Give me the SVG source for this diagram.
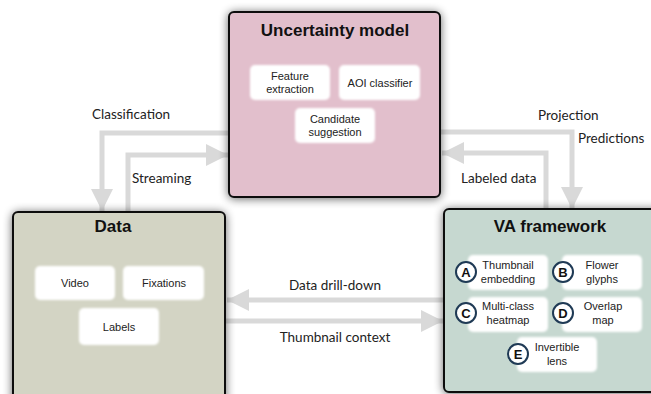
<svg xmlns="http://www.w3.org/2000/svg" width="651" height="394" viewBox="0 0 651 394">
<defs>
<filter id="shadow" x="-20%" y="-20%" width="140%" height="140%">
<feGaussianBlur in="SourceAlpha" stdDeviation="5"/>
<feOffset dx="0" dy="1"/>
<feComponentTransfer><feFuncA type="linear" slope="0.6"/></feComponentTransfer>
<feMerge><feMergeNode/><feMergeNode in="SourceGraphic"/></feMerge>
</filter>
<filter id="soft" x="-10%" y="-10%" width="120%" height="120%">
<feGaussianBlur stdDeviation="1.2"/>
</filter>
<marker id="ah" viewBox="0 0 10 10" refX="10" refY="5" markerWidth="4.6" markerHeight="4.4" orient="auto" markerUnits="strokeWidth">
<path d="M0,0 L10,5 L0,10 Z" fill="#d9d9d9"/>
</marker>
</defs>
<style>
.box{stroke:#111;stroke-width:2}
.title{font-family:"Liberation Sans",Arial,sans-serif;font-weight:bold;font-size:17px;fill:#111;text-anchor:middle}
.inner{fill:#fff;filter:url(#soft)}
.it{font-family:"Liberation Sans",Arial,sans-serif;font-size:11px;fill:#222;text-anchor:middle}
.conn{fill:none;stroke:#d9d9d9;stroke-width:5}
.cl{font-family:Lato,"Open Sans",sans-serif;font-size:13.5px;fill:#222}
.circ{fill:#fff;stroke:#1f3a55;stroke-width:2}
.ct{font-family:"Liberation Sans",Arial,sans-serif;font-weight:bold;font-size:13px;fill:#111;text-anchor:middle}
</style>
<rect width="651" height="394" fill="#fff"/>

<g id="connectors">
<polyline class="conn" points="229,133 102,133 102,211" marker-end="url(#ah)"/>
<polyline class="conn" points="128,212 128,155 228,155" marker-end="url(#ah)"/>
<polyline class="conn" points="440,132 572,132 572,209" marker-end="url(#ah)"/>
<polyline class="conn" points="546,209 546,153 442,153" marker-end="url(#ah)"/>
<line class="conn" x1="444" y1="300" x2="227" y2="300" marker-end="url(#ah)"/>
<line class="conn" x1="225" y1="321" x2="443" y2="321" marker-end="url(#ah)"/>
<text class="cl" x="92" y="119">Classification</text>
<text class="cl" x="132" y="183">Streaming</text>
<text class="cl" x="538" y="120">Projection</text>
<text class="cl" x="578" y="143">Predictions</text>
<text class="cl" x="461" y="183">Labeled data</text>
<text class="cl" x="335" y="290" text-anchor="middle">Data drill-down</text>
<text class="cl" x="335" y="342" text-anchor="middle">Thumbnail context</text>
</g>

<g id="uncertainty-model">
<rect class="box" x="229" y="12" width="211" height="185" rx="5" fill="#e2bfcc" filter="url(#shadow)"/>
<text class="title" x="335" y="36">Uncertainty model</text>
<rect class="inner" x="250" y="65" width="80" height="35" rx="5"/>
<text class="it" x="290" y="80">Feature</text>
<text class="it" x="290" y="93">extraction</text>
<rect class="inner" x="339" y="65" width="81" height="35" rx="5"/>
<text class="it" x="380" y="87">AOI classifier</text>
<rect class="inner" x="295" y="108" width="80" height="35" rx="5"/>
<text class="it" x="335" y="123">Candidate</text>
<text class="it" x="335" y="136">suggestion</text>
</g>

<g id="data">
<rect class="box" x="13" y="212" width="212" height="195" rx="5" fill="#d3d4c4" filter="url(#shadow)"/>
<text class="title" x="113" y="232">Data</text>
<rect class="inner" x="35" y="266" width="80" height="34" rx="5"/>
<text class="it" x="75" y="287">Video</text>
<rect class="inner" x="123" y="266" width="81" height="34" rx="5"/>
<text class="it" x="164" y="287">Fixations</text>
<rect class="inner" x="79" y="308" width="80" height="37" rx="5"/>
<text class="it" x="119" y="331">Labels</text>
</g>

<g id="va-framework">
<rect class="box" x="444" y="209" width="220" height="183" rx="5" fill="#c6d8d0" filter="url(#shadow)"/>
<text class="title" x="550" y="232">VA framework</text>
<rect class="inner" x="468" y="255" width="80" height="35" rx="5"/>
<text class="it" x="508" y="269">Thumbnail</text>
<text class="it" x="508" y="283">embedding</text>
<rect class="inner" x="562" y="255" width="80" height="35" rx="5"/>
<text class="it" x="602" y="269">Flower</text>
<text class="it" x="602" y="283">glyphs</text>
<rect class="inner" x="468" y="297" width="80" height="35" rx="5"/>
<text class="it" x="508" y="310">Multi-class</text>
<text class="it" x="508" y="324">heatmap</text>
<rect class="inner" x="562" y="297" width="80" height="35" rx="5"/>
<text class="it" x="603" y="310">Overlap</text>
<text class="it" x="603" y="324">map</text>
<rect class="inner" x="517" y="337" width="80" height="35" rx="5"/>
<text class="it" x="557" y="351">Invertible</text>
<text class="it" x="557" y="365">lens</text>
<circle class="circ" cx="466" cy="272" r="10"/>
<text class="ct" x="466" y="277">A</text>
<circle class="circ" cx="563" cy="272" r="10"/>
<text class="ct" x="563" y="277">B</text>
<circle class="circ" cx="466" cy="313" r="10"/>
<text class="ct" x="466" y="318">C</text>
<circle class="circ" cx="563" cy="313" r="10"/>
<text class="ct" x="563" y="318">D</text>
<circle class="circ" cx="518" cy="354" r="10"/>
<text class="ct" x="518" y="359">E</text>
</g>
</svg>
